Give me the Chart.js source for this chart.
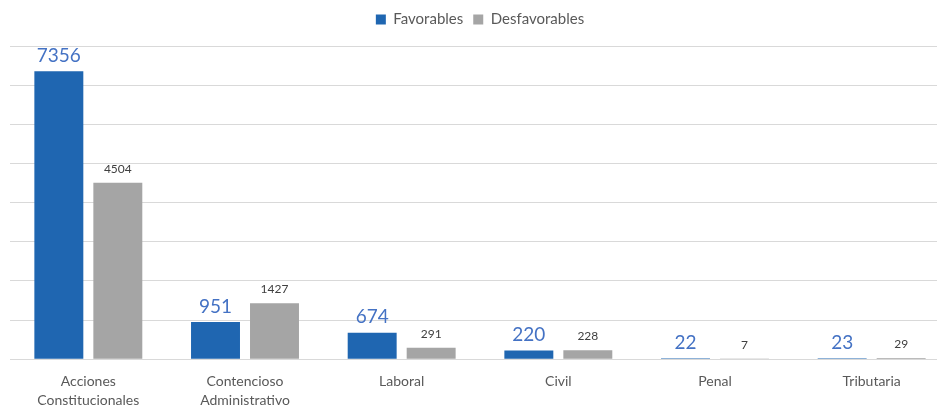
<!DOCTYPE html>
<html>
<head>
<meta charset="utf-8">
<script src="https://cdn.jsdelivr.net/npm/chart.js@4"></script>
<style>
  html, body { margin: 0; padding: 0; background: #ffffff; overflow: hidden; }
  #wrap { width: 950px; height: 415px; }
</style>
</head>
<body>
<div id="wrap"><canvas id="myChart"></canvas></div>
<script>
var categories = [
    ['Acciones', 'Constitucionales'],
    ['Contencioso', 'Administrativo'],
    'Laboral',
    'Civil',
    'Penal',
    'Tributaria'
];
var favorables = [7356, 951, 674, 220, 22, 23];
var desfavorables = [4504, 1427, 291, 228, 7, 29];
var yMax = 8000;
var yStep = 1000;

var fontName = "Lato, 'Open Sans', sans-serif";

// etiquetas encima de las barras
const barLabels = {
    id: 'barLabels',
    afterDatasetsDraw(chart) {
        const c = chart.ctx;
        chart.data.datasets.forEach(function(ds, i) {
            const meta = chart.getDatasetMeta(i);
            meta.data.forEach(function(bar, j) {
                c.save();
                c.textAlign = 'center';
                c.textBaseline = 'bottom';
                if (i == 0) {
                    c.font = '19px ' + fontName;
                    c.fillStyle = '#4472C4';
                    c.fillText(ds.data[j], bar.x, bar.y - 6);
                } else {
                    c.font = '12px ' + fontName;
                    c.fillStyle = '#404040';
                    c.fillText(ds.data[j], bar.x, bar.y - 8);
                }
                c.restore();
            });
        });
    }
};

// un poco mas de espacio bajo la leyenda
const legendMargin = {
    id: 'legendMargin',
    beforeInit(chart) {
        const fit = chart.legend.fit;
        chart.legend.fit = function() {
            fit.bind(chart.legend)();
            this.height += 9;
        };
    }
};

const ctx = document.getElementById('myChart');

let chart = new Chart(ctx, {
    type: 'bar',
    data: {
        labels: categories,
        datasets: [{
            label: 'Favorables',
            data: favorables,
            backgroundColor: '#1F66B1',
            barPercentage: 0.83,
            categoryPercentage: 0.753
        }, {
            label: 'Desfavorables',
            data: desfavorables,
            backgroundColor: '#A5A5A5',
            barPercentage: 0.83,
            categoryPercentage: 0.753
        }]
    },
    options: {
        responsive: true,
        maintainAspectRatio: false,
        animation: false,
        layout: { padding: { left: 10, right: 0, top: 2, bottom: 0 } },
        plugins: {
            legend: {
                position: 'top',
                labels: {
                    boxWidth: 10,
                    boxHeight: 10,
                    padding: 10,
                    color: '#595959',
                    font: { family: fontName, size: 15 }
                }
            },
            tooltip: { enabled: false }
        },
        scales: {
            x: {
                grid: { display: false },
                border: { color: '#D9D9D9' },
                ticks: {
                    color: '#595959',
                    font: { family: fontName, size: 14, lineHeight: 1.35 },
                    maxRotation: 0,
                    autoSkip: false,
                    padding: 5
                }
            },
            y: {
                min: 0,
                max: yMax,
                ticks: { display: false, stepSize: yStep },
                grid: { color: '#D9D9D9', drawTicks: false },
                border: { display: false }
            }
        }
    },
    plugins: [barLabels, legendMargin]
});
</script>
</body>
</html>
